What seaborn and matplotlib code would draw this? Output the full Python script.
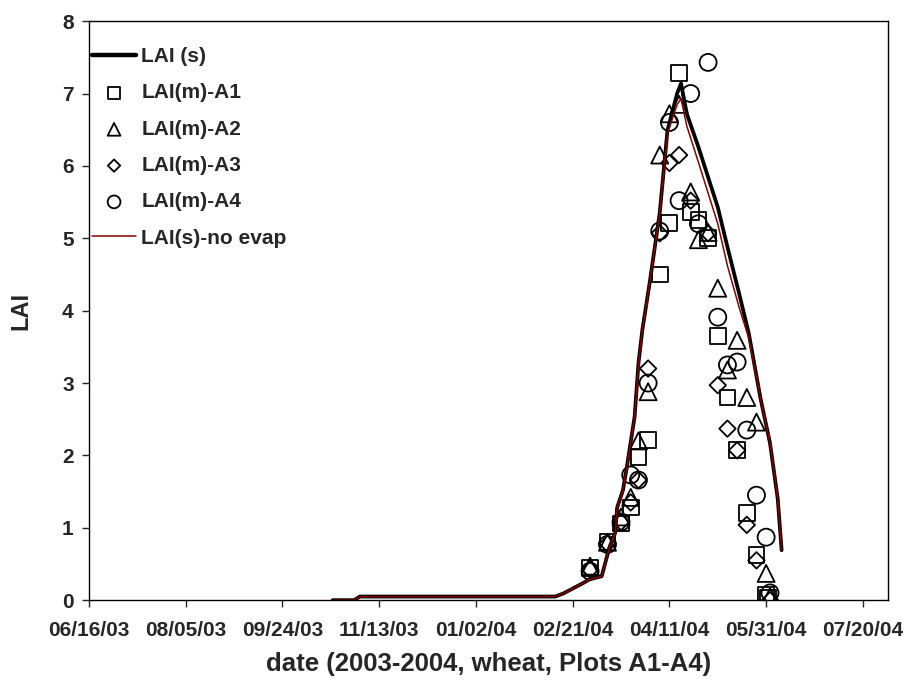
import pandas as pd
import matplotlib
matplotlib.use('Agg')
import matplotlib.pyplot as plt
import matplotlib.dates as mdates
import seaborn as sns

# simulated LAI (black) and simulated without evaporation (red)
sim_dates = ['2003-10-20', '2003-10-31', '2003-11-03', '2004-02-12', '2004-02-16',
             '2004-02-21', '2004-02-26', '2004-03-01', '2004-03-07', '2004-03-11',
             '2004-03-14', '2004-03-15', '2004-03-18', '2004-03-20', '2004-03-24',
             '2004-03-26', '2004-03-28', '2004-04-01', '2004-04-06', '2004-04-10',
             '2004-04-15', '2004-04-17', '2004-04-20', '2004-04-26', '2004-05-06',
             '2004-05-11', '2004-05-17', '2004-05-22', '2004-05-28', '2004-06-02',
             '2004-06-06', '2004-06-08']
lai_s = [0.0, 0.0, 0.05, 0.05, 0.09, 0.16, 0.23, 0.29, 0.33, 0.73, 0.93, 1.28, 1.52,
         1.84, 2.53, 3.27, 3.73, 4.42, 5.35, 6.49, 7.00, 7.14, 6.72, 6.26, 5.43, 4.88,
         4.24, 3.69, 2.80, 2.17, 1.40, 0.69]
lai_noevap = [0.0, 0.0, 0.05, 0.05, 0.09, 0.16, 0.23, 0.29, 0.33, 0.73, 0.93, 1.28, 1.52,
              1.84, 2.53, 3.27, 3.73, 4.42, 5.35, 6.45, 6.85, 6.93, 6.55, 6.05, 5.20, 4.62,
              4.05, 3.62, 2.80, 2.17, 1.40, 0.69]

# measured LAI, plots A1-A4
a1_dates = ['2004-03-01', '2004-03-10', '2004-03-17', '2004-03-22', '2004-03-26',
            '2004-03-31', '2004-04-06', '2004-04-11', '2004-04-16', '2004-04-22',
            '2004-04-26', '2004-05-01', '2004-05-06', '2004-05-11', '2004-05-16',
            '2004-05-21', '2004-05-26', '2004-05-31', '2004-06-01']
a1 = [0.44, 0.80, 1.06, 1.28, 1.98, 2.21, 4.50, 5.21, 7.28, 5.36, 5.25, 5.00, 3.65,
      2.80, 2.08, 1.21, 0.62, 0.07, 0.03]

a2_dates = ['2004-03-01', '2004-03-10', '2004-03-17', '2004-03-22', '2004-03-26',
            '2004-03-31', '2004-04-06', '2004-04-11', '2004-04-16', '2004-04-22',
            '2004-04-26', '2004-05-01', '2004-05-06', '2004-05-11', '2004-05-16',
            '2004-05-21', '2004-05-26', '2004-05-31', '2004-06-02']
a2 = [0.47, 0.80, 1.15, 1.42, 2.20, 2.88, 6.15, 6.72, 6.85, 5.64, 4.98, 5.08, 4.31,
      3.18, 3.59, 2.80, 2.46, 0.37, 0.05]

a3_dates = ['2004-03-01', '2004-03-10', '2004-03-17', '2004-03-22', '2004-03-26',
            '2004-03-31', '2004-04-06', '2004-04-11', '2004-04-16', '2004-04-22',
            '2004-05-01', '2004-05-06', '2004-05-11', '2004-05-16', '2004-05-21',
            '2004-05-26', '2004-06-02']
a3 = [0.42, 0.78, 1.08, 1.35, 1.66, 3.20, 5.07, 6.04, 6.15, 5.52, 5.07, 2.97, 2.37,
      2.07, 1.04, 0.55, 0.00]

a4_dates = ['2004-03-01', '2004-03-10', '2004-03-17', '2004-03-22', '2004-03-26',
            '2004-03-31', '2004-04-06', '2004-04-11', '2004-04-16', '2004-04-22',
            '2004-04-26', '2004-05-01', '2004-05-06', '2004-05-11', '2004-05-16',
            '2004-05-21', '2004-05-26', '2004-05-31', '2004-06-02']
a4 = [0.40, 0.77, 1.08, 1.73, 1.66, 3.00, 5.10, 6.60, 5.52, 7.00, 5.20, 7.43, 3.91,
      3.25, 3.29, 2.35, 1.45, 0.87, 0.10]

tick_start = '2003-06-16'
x_end = '2004-08-02'

sns.set_style('white')
plt.rcParams['font.family'] = ['Liberation Sans', 'DejaVu Sans']
plt.rcParams['font.weight'] = 'bold'

fig = plt.figure(figsize=(9.08, 6.82), dpi=100)
ax = fig.add_axes([0.098, 0.12, 0.88, 0.849])

sim = pd.DataFrame({'date': pd.to_datetime(sim_dates), 's': lai_s, 'ne': lai_noevap})
sns.lineplot(data=sim, x='date', y='s', ax=ax, color='black', lw=2.7, label='LAI (s)')

meas = [(a1_dates, a1, 's', 130, 'LAI(m)-A1'),
        (a2_dates, a2, '^', 150, 'LAI(m)-A2'),
        (a3_dates, a3, 'D', 70, 'LAI(m)-A3'),
        (a4_dates, a4, 'o', 150, 'LAI(m)-A4')]
for d, v, m, sz, lab in meas:
    sns.scatterplot(x=pd.to_datetime(d), y=v, ax=ax, marker=m, s=sz,
                    facecolors='none', edgecolors='black', linewidths=1.3, label=lab)

sns.lineplot(data=sim, x='date', y='ne', ax=ax, color='#8b0000', lw=1.1,
             label='LAI(s)-no evap')

ax.set_ylim(0, 8)
ax.set_xlim(pd.Timestamp(tick_start), pd.Timestamp(x_end))
ax.set_xticks(pd.date_range(tick_start, periods=9, freq='50D'))
ax.xaxis.set_major_formatter(mdates.DateFormatter('%m/%d/%y'))
ax.set_yticks(range(0, 9))
ax.tick_params(axis='both', which='major', direction='out', length=5, width=1,
               labelsize=15, bottom=True, left=True, top=False, right=False)
ax.tick_params(axis='x', pad=10)
ax.tick_params(axis='y', pad=6)
for lbl in ax.get_xticklabels() + ax.get_yticklabels():
    lbl.set_fontweight('bold')
for sp in ax.spines.values():
    sp.set_color('black')
    sp.set_linewidth(1.0)

ax.set_xlabel('date (2003-2004, wheat, Plots A1-A4)', fontsize=18.5, fontweight='bold',
              labelpad=9)
ax.set_ylabel('LAI', fontsize=17, fontweight='bold', labelpad=21)

handles, labels = ax.get_legend_handles_labels()
order = ['LAI (s)', 'LAI(m)-A1', 'LAI(m)-A2', 'LAI(m)-A3', 'LAI(m)-A4', 'LAI(s)-no evap']
hmap = dict(zip(labels, handles))
leg = ax.legend([hmap[k] for k in order], order, loc='upper left', frameon=False,
                bbox_to_anchor=(0.004, 0.955), borderaxespad=0, borderpad=0,
                prop={'size': 15, 'weight': 'bold'}, handlelength=2.1,
                handletextpad=0.25, labelspacing=0.83, markerscale=0.75)
leg.get_lines()[0].set_linewidth(3.2)

fig.savefig('out.png', dpi=100)
